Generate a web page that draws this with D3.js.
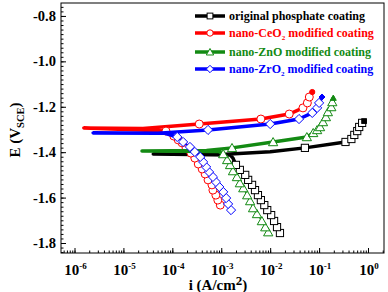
<!DOCTYPE html>
<html>
<head>
<meta charset="utf-8">
<script src="https://cdn.jsdelivr.net/npm/d3@7"></script>
<style>
  body { margin: 0; background: #fff; }
</style>
</head>
<body>
<div id="chart"></div>
<script>
// data: [log10(i), E]
// cathodic branch (bottom -> top), Ecorr spike, anodic branch
const origCathodic = [[-1.80,-1.756],[-1.86,-1.730],[-1.92,-1.703],[-1.98,-1.677],[-2.06,-1.655],[-2.12,-1.633],[-2.19,-1.611],[-2.25,-1.589],[-2.31,-1.567],[-2.37,-1.544],[-2.45,-1.522],[-2.51,-1.500],[-2.62,-1.478],[-2.70,-1.456]];
const origCorr = [[-2.76,-1.426],[-2.82,-1.412],[-4.39,-1.408],[-3.0,-1.410],[-2.0,-1.398]];
const origAnodic = [[-1.29,-1.381],[-0.46,-1.355],[-0.34,-1.342],[-0.28,-1.324],[-0.22,-1.307],[-0.18,-1.289],[-0.12,-1.271],[-0.08,-1.263]];

const ceCathodic = [[-3.02,-1.633],[-3.07,-1.611],[-3.11,-1.589],[-3.17,-1.567],[-3.19,-1.544],[-3.27,-1.522],[-3.33,-1.496],[-3.39,-1.474],[-3.47,-1.452],[-3.54,-1.426],[-3.62,-1.404],[-3.72,-1.381],[-3.80,-1.359],[-3.88,-1.346],[-3.97,-1.329],[-4.13,-1.307]];
const ceCorr = [[-5.81,-1.293],[-4.6,-1.296]];
const ceAnodic = [[-3.45,-1.276],[-2.19,-1.254],[-1.61,-1.232],[-1.33,-1.205],[-1.24,-1.183],[-1.20,-1.157],[-1.14,-1.135]];

const znCathodic = [[-2.04,-1.752],[-2.10,-1.730],[-2.17,-1.703],[-2.27,-1.672],[-2.35,-1.646],[-2.41,-1.615],[-2.47,-1.589],[-2.55,-1.558],[-2.62,-1.536],[-2.68,-1.509],[-2.76,-1.483],[-2.82,-1.456],[-2.88,-1.434],[-2.96,-1.408]];
const znCorr = [[-3.05,-1.397],[-4.62,-1.395],[-3.3,-1.393]];
const znAnodic = [[-2.78,-1.381],[-1.94,-1.355],[-1.25,-1.333],[-1.12,-1.315],[-1.04,-1.302],[-0.98,-1.289],[-0.92,-1.267],[-0.86,-1.245],[-0.82,-1.223],[-0.75,-1.201],[-0.73,-1.179],[-0.71,-1.161]];

const zrCathodic = [[-2.80,-1.655],[-2.86,-1.628],[-2.90,-1.602],[-2.96,-1.575],[-3.04,-1.553],[-3.11,-1.531],[-3.17,-1.509],[-3.25,-1.487],[-3.31,-1.465],[-3.37,-1.443],[-3.43,-1.421],[-3.54,-1.399],[-3.64,-1.377],[-3.78,-1.355],[-3.90,-1.333]];
const zrCorr = [[-4.15,-1.317],[-5.62,-1.315],[-4.3,-1.317]];
const zrAnodic = [[-3.27,-1.302],[-2.00,-1.276],[-1.41,-1.254],[-1.14,-1.227],[-1.04,-1.205],[-1.00,-1.183],[-0.94,-1.157]];

const seriesNames = ["original phosphate coating", "nano-CeO|2| modified coating", "nano-ZnO modified coating", "nano-ZrO|2| modified coating"];
const seriesColors = ["#000000", "#ff0000", "#138a13", "#0000ff"];
const seriesSymbols = ["square", "circle", "triangle", "diamond"];

const xTickExps = [-6, -5, -4, -3, -2, -1, 0];
const yTicks = [-0.8, -1.0, -1.2, -1.4, -1.6, -1.8];

const series = [
  {cath: origCathodic, corr: origCorr, anod: origAnodic},
  {cath: ceCathodic, corr: ceCorr, anod: ceAnodic},
  {cath: znCathodic, corr: znCorr, anod: znAnodic},
  {cath: zrCathodic, corr: zrCorr, anod: zrAnodic}
];

const FONT = "'Liberation Serif', 'Times New Roman', 'DejaVu Serif', serif";
const W = 388, H = 292;
const plot = {left: 61, right: 384, top: 3, bottom: 253};

const svg = d3.select("#chart").append("svg")
  .attr("width", W).attr("height", H)
  .attr("font-family", FONT).attr("font-weight", "bold");

const x = d3.scaleLog()
  .domain([Math.pow(10, -6.276), Math.pow(10, 0.327)])
  .range([plot.left, plot.right]);
const y = d3.scaleLinear()
  .domain([-1.844, -0.743])
  .range([plot.bottom, plot.top]);

const px = d => x(Math.pow(10, d[0]));
const py = d => y(d[1]);

// frame
svg.append("rect")
  .attr("x", plot.left).attr("y", plot.top)
  .attr("width", plot.right - plot.left).attr("height", plot.bottom - plot.top)
  .attr("fill", "none").attr("stroke", "#000").attr("stroke-width", 1);

// bottom axis, ticks inward
const xMinor = [];
for (let e = -7; e <= 0; e++) for (let m = 1; m < 10; m++) {
  const v = m * Math.pow(10, e);
  if (v >= x.domain()[0] && v <= x.domain()[1]) xMinor.push(v);
}
const gx = svg.append("g").attr("transform", `translate(0,${plot.bottom})`);
gx.call(d3.axisBottom(x).tickValues(xMinor).tickSize(-2.5).tickFormat(""))
  .call(g => g.select(".domain").remove());
gx.append("g").call(d3.axisBottom(x).tickValues(xTickExps.map(e => Math.pow(10, e))).tickSize(-5).tickFormat(""))
  .call(g => g.select(".domain").remove());
gx.selectAll("line").attr("stroke", "#000");

xTickExps.forEach(e => {
  const t = svg.append("text")
    .attr("x", x(Math.pow(10, e)) + 1).attr("y", 275)
    .attr("text-anchor", "middle").attr("font-size", 15).attr("font-family", FONT);
  t.append("tspan").text("10");
  t.append("tspan").attr("dy", -6).attr("font-size", 9).text(e);
});

// left axis, ticks inward
const yMinor = d3.range(-1.84, -0.74, 0.02);
const gy = svg.append("g").attr("transform", `translate(${plot.left},0)`);
gy.call(d3.axisLeft(y).tickValues(yMinor).tickSize(-2.5).tickFormat(""))
  .call(g => g.select(".domain").remove());
gy.append("g").call(d3.axisLeft(y).tickValues(yTicks).tickSize(-5).tickFormat(""))
  .call(g => g.select(".domain").remove());
gy.selectAll("line").attr("stroke", "#000");

yTicks.forEach(v => {
  svg.append("text")
    .attr("x", 56).attr("y", y(v) + 5)
    .attr("text-anchor", "end").attr("font-size", 14.5).attr("font-family", FONT)
    .text(d3.format(".1f")(v).replace("−", "-"));
});

// axis titles
const yl = svg.append("text")
  .attr("transform", `translate(20,${(plot.top + plot.bottom) / 2 + 2}) rotate(-90)`)
  .attr("text-anchor", "middle").attr("font-size", 15).attr("font-family", FONT);
yl.append("tspan").text("E (V");
yl.append("tspan").attr("dy", 4).attr("font-size", 10.5).text("SCE");
yl.append("tspan").attr("dy", -4).text(")");

const xl = svg.append("text")
  .attr("x", 218).attr("y", 290)
  .attr("text-anchor", "middle").attr("font-size", 15).attr("font-family", FONT);
xl.append("tspan").text("i (A/cm");
xl.append("tspan").attr("dy", -5).attr("font-size", 13).text("2");
xl.append("tspan").attr("dy", 5).text(")");

// symbols
function drawSymbol(g, kind, cx, cy, r, color, filled) {
  let el;
  if (kind === "circle") {
    el = g.append("circle").attr("cx", cx).attr("cy", cy).attr("r", r);
  } else if (kind === "square") {
    el = g.append("rect").attr("x", cx - r * 0.9).attr("y", cy - r * 0.9)
      .attr("width", r * 1.8).attr("height", r * 1.8);
  } else if (kind === "triangle") {
    const h = r * 1.1;
    el = g.append("path").attr("d", `M${cx},${cy - h}L${cx + h * 1.05},${cy + h * 0.85}L${cx - h * 1.05},${cy + h * 0.85}Z`);
  } else {
    const h = r * 1.15;
    el = g.append("path").attr("d", `M${cx},${cy - h}L${cx + h},${cy}L${cx},${cy + h}L${cx - h},${cy}Z`);
  }
  el.attr("fill", filled ? color : "#fff").attr("stroke", color).attr("stroke-width", 1);
}

const line = d3.line().x(px).y(py);

series.forEach((s, i) => {
  const color = seriesColors[i];
  const g = svg.append("g");
  g.append("path").datum(s.cath).attr("d", line)
    .attr("fill", "none").attr("stroke", color).attr("stroke-width", 1.2);
  const thick = [s.cath[s.cath.length - 1]].concat(s.corr, s.anod);
  g.append("path").datum(thick).attr("d", line)
    .attr("fill", "none").attr("stroke", color).attr("stroke-width", 3.5)
    .attr("stroke-linejoin", "round").attr("stroke-linecap", "round");
  s.cath.concat(s.anod.slice(0, -1)).forEach(d => {
    drawSymbol(g, seriesSymbols[i], px(d), py(d), 4, color, false);
  });
  const last = s.anod[s.anod.length - 1];
  drawSymbol(g, seriesSymbols[i], px(last), py(last), 2.6, color, true);
});

// legend
const legendRows = [16, 33, 52, 69];
seriesNames.forEach((name, i) => {
  const ly = legendRows[i];
  const color = seriesColors[i];
  svg.append("line").attr("x1", 195).attr("x2", 225).attr("y1", ly).attr("y2", ly)
    .attr("stroke", color).attr("stroke-width", 3.5);
  drawSymbol(svg, seriesSymbols[i], 210, ly, 3.2, color, false);
  const t = svg.append("text").attr("x", 229).attr("y", ly + 4)
    .attr("font-size", 12).attr("fill", color).attr("font-family", FONT);
  const parts = name.split("|");
  t.append("tspan").text(parts[0]);
  if (parts.length > 1) {
    t.append("tspan").attr("dy", 3).attr("font-size", 7).text(parts[1]);
    t.append("tspan").attr("dy", -3).text(parts[2]);
  }
});
</script>
</body>
</html>
